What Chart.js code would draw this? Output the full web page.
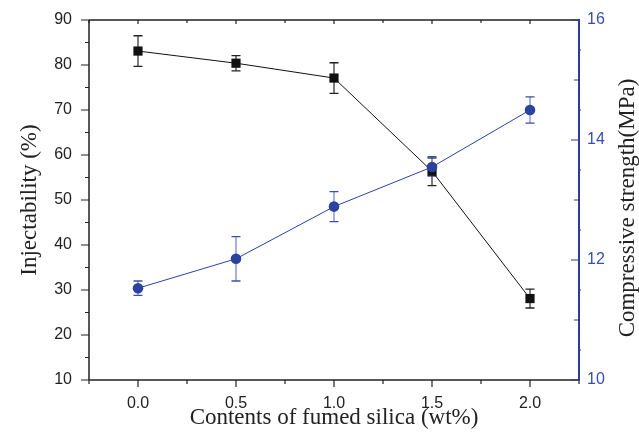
<!DOCTYPE html>
<html>
<head>
<meta charset="utf-8">
<script src="https://cdn.jsdelivr.net/npm/chart.js@4.4.1/dist/chart.umd.min.js"></script>
<style>
html,body{margin:0;padding:0;background:#fff;}
#wrap{width:639px;height:442px;position:relative;}
</style>
</head>
<body>
<div id="wrap"><canvas id="c" width="639" height="442"></canvas></div>
<script>
// ---- data ----
const silicaContent = [0.0, 0.5, 1.0, 1.5, 2.0];
const injectability = [83.1, 80.4, 77.1, 56.4, 28.1];
const injectabilityErr = [3.4, 1.7, 3.4, 3.2, 2.1];
const compressiveStrength = [11.53, 12.02, 12.89, 13.55, 14.50];
const compressiveStrengthErr = [0.12, 0.37, 0.25, 0.15, 0.22];
const xTickLabels = ['0.0', '0.5', '1.0', '1.5', '2.0'];
const leftTickValues = [10, 20, 30, 40, 50, 60, 70, 80, 90];
const rightTickValues = [10, 12, 14, 16];
const rightAxisTitle = 'Compressive strength(MPa)';

const BLACK = '#111111';
const BLUE = '#2c42a0';
const BLUE_AXIS = '#2e3d90';
const BLUE_TEXT = '#3a4fb0';

const injPoints = silicaContent.map((x, i) => ({x: x, y: injectability[i]}));
const strPoints = silicaContent.map((x, i) => ({x: x, y: compressiveStrength[i]}));

const errorBarPlugin = {
  id: 'errorBars',
  beforeDatasetsDraw(chart) {
    const ctx = chart.ctx;
    const xs = chart.scales.x;
    const sets = [
      {scale: chart.scales.y, vals: injectability, errs: injectabilityErr, stem: '#555555', cap: '#222222'},
      {scale: chart.scales.y1, vals: compressiveStrength, errs: compressiveStrengthErr, stem: '#8a9ad4', cap: '#3a4fa8'}
    ];
    ctx.save();
    sets.forEach(s => {
      silicaContent.forEach((xv, i) => {
        const px = xs.getPixelForValue(xv);
        const top = s.scale.getPixelForValue(s.vals[i] + s.errs[i]);
        const bot = s.scale.getPixelForValue(s.vals[i] - s.errs[i]);
        ctx.strokeStyle = s.stem;
        ctx.lineWidth = 1.5;
        ctx.beginPath(); ctx.moveTo(px, top); ctx.lineTo(px, bot); ctx.stroke();
        ctx.strokeStyle = s.cap;
        ctx.lineWidth = 1.3;
        ctx.beginPath();
        ctx.moveTo(px - 4.5, top); ctx.lineTo(px + 4.5, top);
        ctx.moveTo(px - 4.5, bot); ctx.lineTo(px + 4.5, bot);
        ctx.stroke();
      });
    });
    ctx.restore();
  }
};

const framePlugin = {
  id: 'frameTicks',
  afterDraw(chart) {
    const ctx = chart.ctx;
    const a = chart.chartArea;
    const xs = chart.scales.x, ys = chart.scales.y, y1 = chart.scales.y1;
    ctx.save();
    ctx.lineCap = 'butt';
    ctx.strokeStyle = '#222222';
    ctx.lineWidth = 1.5;
    ctx.beginPath();
    ctx.moveTo(a.left, a.top); ctx.lineTo(a.right, a.top);
    ctx.moveTo(a.left, a.top); ctx.lineTo(a.left, a.bottom);
    ctx.moveTo(a.left, a.bottom); ctx.lineTo(a.right, a.bottom);
    ctx.stroke();
    ctx.lineWidth = 1.2;
    ctx.beginPath();
    for (let v = 10; v <= 90; v += 5) {
      const py = ys.getPixelForValue(v);
      const len = (v % 10 === 0) ? 8 : 4;
      ctx.moveTo(a.left - len, py); ctx.lineTo(a.left, py);
    }
    for (let v = -0.25; v <= 2.25001; v += 0.25) {
      const px = xs.getPixelForValue(v);
      const major = Math.abs(v * 2 - Math.round(v * 2)) < 1e-6;
      const len = major ? 7 : 4;
      ctx.moveTo(px, a.bottom); ctx.lineTo(px, a.bottom + len);
      ctx.moveTo(px, a.top); ctx.lineTo(px, a.top + (major ? 4 : 3));
    }
    ctx.stroke();
    ctx.strokeStyle = BLUE_AXIS;
    ctx.lineWidth = 2;
    ctx.beginPath();
    ctx.moveTo(a.right, a.top - 1); ctx.lineTo(a.right, a.bottom + 1);
    ctx.stroke();
    ctx.lineWidth = 1.2;
    ctx.beginPath();
    for (let v = 10; v <= 16.0001; v += 0.5) {
      const py = y1.getPixelForValue(v);
      if (Math.abs(v - Math.round(v)) < 1e-6) {
        const len = (Math.round(v) % 2 === 0) ? 8 : 5;
        ctx.moveTo(a.right - len, py); ctx.lineTo(a.right, py);
      } else {
        ctx.moveTo(a.right, py); ctx.lineTo(a.right + 2, py);
      }
    }
    ctx.stroke();
    // right axis title, reading bottom-to-top
    const cy = (a.top + a.bottom) / 2 + 8;
    ctx.translate(628, cy);
    ctx.rotate(-Math.PI / 2);
    ctx.fillStyle = '#222222';
    ctx.font = '23px "Liberation Serif"';
    ctx.textAlign = 'center';
    ctx.textBaseline = 'middle';
    ctx.fillText(rightAxisTitle, 0, 0);
    ctx.restore();
  }
};

function fixVertical(w) {
  return function(scale) { scale.width = w; scale.paddingTop = 0; scale.paddingBottom = 0; };
}

new Chart(document.getElementById('c'), {
  type: 'scatter',
  data: {
    datasets: [
      {
        label: 'Injectability',
        data: injPoints,
        yAxisID: 'y',
        showLine: true,
        borderColor: BLACK,
        borderWidth: 1,
        backgroundColor: BLACK,
        pointStyle: 'rect',
        pointRadius: 6.5,
        pointBorderColor: BLACK,
        pointBackgroundColor: BLACK,
        pointBorderWidth: 0,
        order: 1
      },
      {
        label: 'Compressive strength',
        data: strPoints,
        yAxisID: 'y1',
        showLine: true,
        borderColor: BLUE,
        borderWidth: 1,
        backgroundColor: BLUE,
        pointStyle: 'circle',
        pointRadius: 5.3,
        pointBorderColor: BLUE,
        pointBackgroundColor: BLUE,
        pointBorderWidth: 0,
        order: 0
      }
    ]
  },
  options: {
    responsive: false,
    animation: false,
    devicePixelRatio: 1,
    layout: {padding: {top: 20, left: 0, right: 0, bottom: 0}},
    plugins: {legend: {display: false}, tooltip: {enabled: false}},
    scales: {
      x: {
        type: 'linear',
        position: 'bottom',
        min: -0.25, max: 2.25,
        afterBuildTicks(scale) { scale.ticks = silicaContent.map(v => ({value: v})); },
        afterFit(scale) { scale.height = 62; scale.paddingLeft = 0; scale.paddingRight = 0; },
        grid: {display: false, drawTicks: false},
        border: {display: false},
        ticks: {
          padding: 14,
          color: '#222222',
          font: {family: 'Liberation Sans', size: 16},
          callback: (v, i) => xTickLabels[i]
        },
        title: {
          display: true,
          text: 'Contents of fumed silica (wt%)',
          color: '#222222',
          font: {family: 'Liberation Serif', size: 23, lineHeight: 1},
          padding: {top: 0, bottom: 13}
        }
      },
      y: {
        type: 'linear',
        position: 'left',
        min: 10, max: 90,
        afterBuildTicks(scale) { scale.ticks = leftTickValues.map(v => ({value: v})); },
        afterFit: fixVertical(89),
        grid: {display: false, drawTicks: false},
        border: {display: false},
        ticks: {
          padding: 17,
          color: '#222222',
          font: {family: 'Liberation Sans', size: 16}
        },
        title: {
          display: true,
          text: 'Injectability (%)',
          color: '#222222',
          font: {family: 'Liberation Serif', size: 23, lineHeight: 1},
          padding: {top: 18.5, bottom: 0}
        }
      },
      y1: {
        type: 'linear',
        position: 'right',
        min: 10, max: 16,
        afterBuildTicks(scale) { scale.ticks = rightTickValues.map(v => ({value: v})); },
        afterFit: fixVertical(60),
        grid: {display: false, drawTicks: false},
        border: {display: false},
        ticks: {
          padding: 8,
          color: BLUE_TEXT,
          font: {family: 'Liberation Sans', size: 16}
        },
        title: {display: false}
      }
    }
  },
  plugins: [errorBarPlugin, framePlugin]
});
</script>
</body>
</html>
